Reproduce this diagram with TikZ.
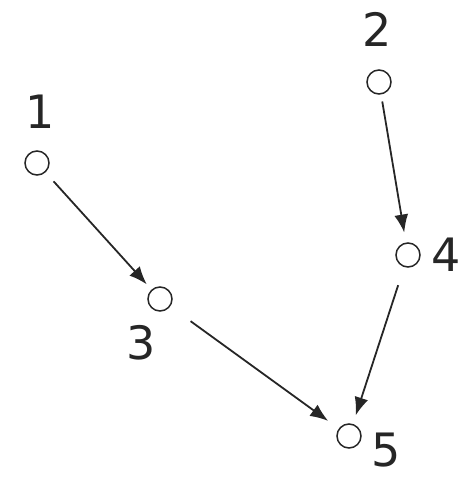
\documentclass[tikz,border=0pt]{standalone}
\usepackage{fontspec}
\setmainfont{DejaVu Sans}
\usetikzlibrary{arrows.meta}
\begin{document}
\begin{tikzpicture}[x=1pt,y=-1pt,
  vert/.style={circle,draw=black!85,line width=1.5pt,minimum size=24pt,inner sep=0pt},
  lab/.style={font=\fontsize{46}{46}\selectfont,text=black!85,inner sep=0pt},
  edge/.style={draw=black!85,line width=1.8pt,-{Latex[length=18pt,width=14pt]}}]
\useasboundingbox (0,0) rectangle (463,479);
\node[vert] (v1) at (37,163) {};
\node[vert] (v2) at (379,82) {};
\node[vert] (v3) at (160,299) {};
\node[vert] (v4) at (408,255) {};
\node[vert] (v5) at (349,436) {};
\node[lab] (l1) at (40,112) {1};
\node[lab] (l2) at (377,29) {2};
\node[lab] (l3) at (141,343) {3};
\node[lab] (l4) at (446,255) {4};
\node[lab] (l5) at (386,450) {5};
\draw[edge,shorten <=12pt,shorten >=7pt] (v1) -- (v3);
\draw[edge,shorten <=7pt,shorten >=10pt] (v2) -- (v4);
\draw[edge,shorten <=25pt,shorten >=13pt] (v3) -- (v5);
\draw[edge,shorten <=19pt,shorten >=9pt] (v4) -- (v5);
\end{tikzpicture}
\end{document}
